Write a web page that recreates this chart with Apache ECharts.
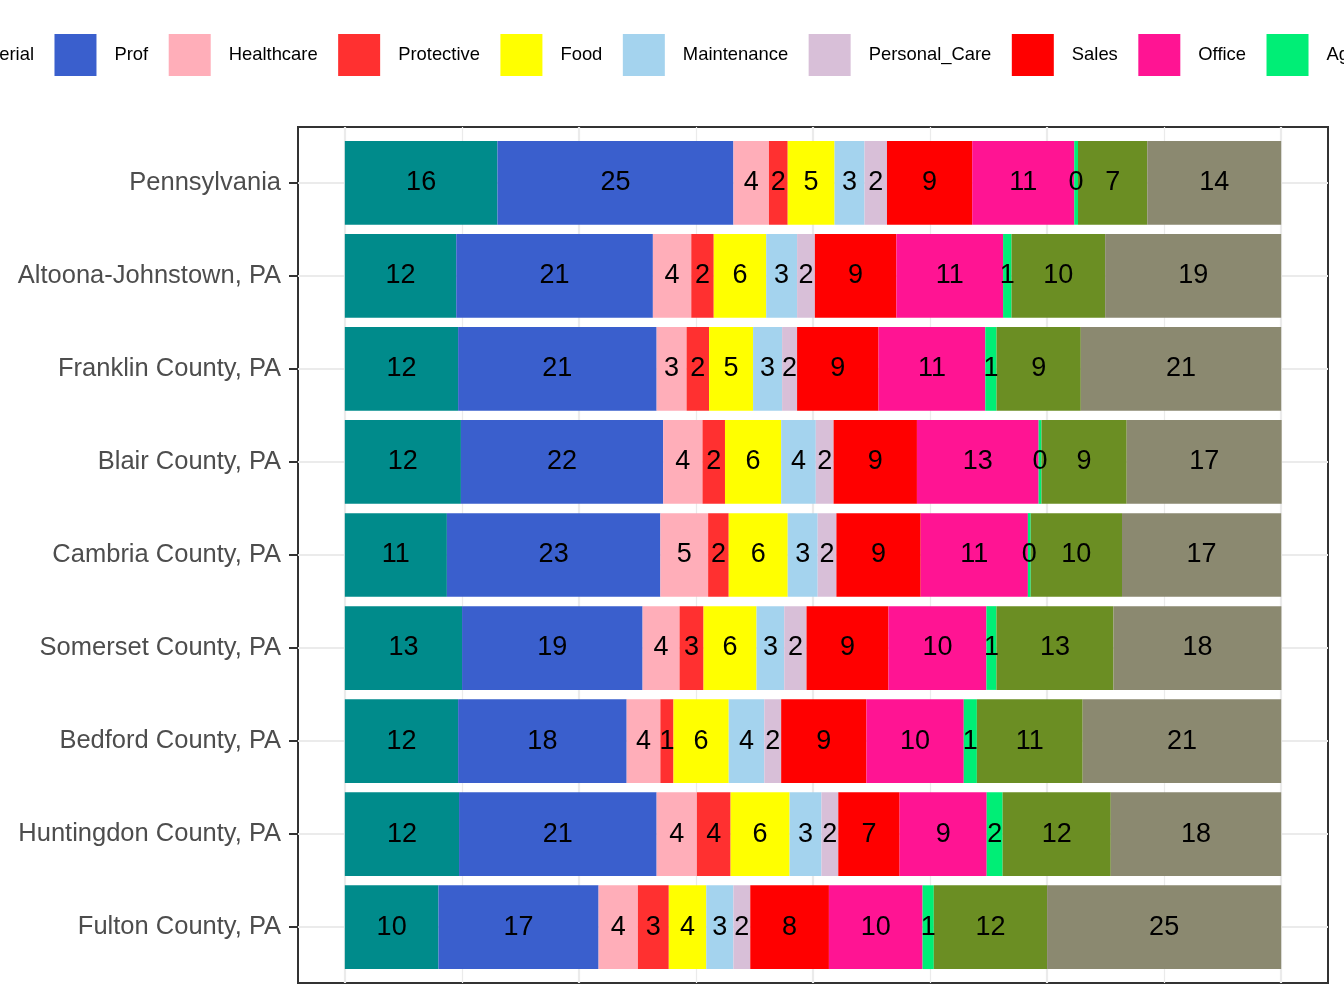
<!DOCTYPE html>
<html>
<head>
<meta charset="utf-8">
<script src="https://cdn.jsdelivr.net/npm/echarts@6.0.0/dist/echarts.min.js"></script>
<style>
  html, body { margin: 0; padding: 0; background: #fff; }
  #chart { width: 1344px; height: 1008px; }
</style>
</head>
<body>
<div id="chart"></div>
<script>
// regions, top to bottom
const regions = [
  'Pennsylvania', 'Altoona-Johnstown, PA', 'Franklin County, PA', 'Blair County, PA',
  'Cambria County, PA', 'Somerset County, PA', 'Bedford County, PA',
  'Huntingdon County, PA', 'Fulton County, PA'
];

// share of workers (%) per occupation group, one value per region
const managerial   = [16.3, 11.9, 12.1, 12.4, 10.9, 12.52, 12.1, 12.2, 10.0];
const prof         = [25.2, 21.0, 21.2, 21.6, 22.8, 19.28, 18.0, 21.1, 17.1];
const healthcare   = [3.8, 4.1, 3.2, 4.2, 5.1, 3.95, 3.6, 4.3, 4.2];
const protective   = [2.0, 2.4, 2.4, 2.4, 2.2, 2.56, 1.4, 3.6, 3.3];
const food         = [5.0, 5.6, 4.7, 6.0, 6.3, 5.66, 5.9, 6.3, 4.0];
const maintenance  = [3.2, 3.3, 3.1, 3.7, 3.2, 2.96, 3.8, 3.4, 2.9];
const personalCare = [2.4, 1.9, 1.6, 1.9, 2.0, 2.38, 1.8, 1.8, 1.8];
const sales        = [9.1, 8.7, 8.7, 8.9, 9.0, 8.75, 9.1, 6.55, 8.4];
const office       = [10.9, 11.4, 11.4, 13.0, 11.45, 10.46, 10.4, 9.3, 10.0];
const agriculture  = [0.4, 0.9, 1.2, 0.3, 0.3, 1.07, 1.4, 1.7, 1.2];
const construction = [7.4, 10.0, 9.0, 9.1, 9.75, 12.5, 11.3, 11.55, 12.1];
const production   = [14.3, 18.8, 21.4, 16.55, 17.0, 17.93, 21.2, 18.2, 25.0];

const groupNames = ['Managerial', 'Prof', 'Healthcare', 'Protective', 'Food', 'Maintenance',
  'Personal_Care', 'Sales', 'Office', 'Agriculture', 'Construction', 'Production'];
const groupValues = [managerial, prof, healthcare, protective, food, maintenance,
  personalCare, sales, office, agriculture, construction, production];
const groupColors = ['#008B8B', '#3A5FCD', '#FFAEB9', '#FF3030', '#FFFF00', '#A4D3EE',
  '#D8BFD8', '#FF0000', '#FF1493', '#00EE76', '#6B8E23', '#8B8970'];

// vertical grid lines
const majorBreaks = [0, 25, 50, 75, 100];
const minorBreaks = [12.5, 37.5, 62.5, 87.5];

const font = '"Liberation Sans", Arial, sans-serif';
const chart = echarts.init(document.getElementById('chart'));

const barSeries = groupNames.map((name, i) => ({
  name: name,
  type: 'bar',
  stack: 'total',
  xAxisIndex: 1,
  yAxisIndex: 1,
  barCategoryGap: '10%',
  z: 3,
  itemStyle: { color: groupColors[i] },
  label: {
    show: true,
    position: 'inside',
    formatter: p => Math.round(p.value),
    fontSize: 27,
    fontFamily: font,
    color: '#000',
    textBorderWidth: 0
  },
  emphasis: { disabled: true },
  data: groupValues[i]
}));

const gridLine = (w) => ({ width: w, color: '#EBEBEB', type: 'solid', cap: 'butt' });

chart.setOption({
  backgroundColor: '#fff',
  animation: false,
  legend: {
    left: -117,
    top: 34,
    width: 3000,
    padding: 0,
    itemWidth: 42,
    itemHeight: 42,
    itemGap: 20.5,
    icon: 'rect',
    selectedMode: false,
    textStyle: { fontSize: 18.4, color: '#000', fontFamily: font, padding: [3, 0, 0, 13] },
    data: groupNames
  },
  grid: [
    // panel (border + vertical grid lines)
    { left: 298, top: 127, width: 1030, height: 856, show: true,
      borderColor: '#333333', borderWidth: 2, backgroundColor: 'transparent' },
    // bars (inset for the discrete-axis padding)
    { left: 298, top: 136.3, width: 1030, height: 837.4 }
  ],
  xAxis: [
    { type: 'value', gridIndex: 0, min: -5, max: 105, show: false },
    { type: 'value', gridIndex: 1, min: -5, max: 105, show: false }
  ],
  yAxis: [
    { type: 'value', gridIndex: 0, min: 0, max: 1, show: false },
    {
      type: 'category', gridIndex: 1, inverse: true, data: regions,
      axisLine: { show: false, onZero: false },
      axisTick: { show: true, alignWithLabel: true, length: 9,
        lineStyle: { color: '#333333', width: 2 } },
      axisLabel: { fontSize: 25.5, color: '#4D4D4D', fontFamily: font, margin: 17 },
      splitLine: { show: false }
    }
  ],
  series: [
    {
      type: 'line', xAxisIndex: 0, yAxisIndex: 0, data: [], silent: true, z: 0,
      markLine: {
        silent: true, z: 0, symbol: ['none', 'none'], label: { show: false },
        lineStyle: gridLine(2.2),
        data: majorBreaks.map(v => ({ xAxis: v, lineStyle: gridLine(2.2) }))
          .concat(minorBreaks.map(v => ({ xAxis: v, lineStyle: gridLine(1.2) })))
      }
    },
    {
      type: 'line', xAxisIndex: 1, yAxisIndex: 1, data: [], silent: true, z: 0,
      markLine: {
        silent: true, z: 0, symbol: ['none', 'none'], label: { show: false },
        lineStyle: gridLine(2.2),
        data: regions.map(r => ({ yAxis: r }))
      }
    }
  ].concat(barSeries)
});
</script>
</body>
</html>
